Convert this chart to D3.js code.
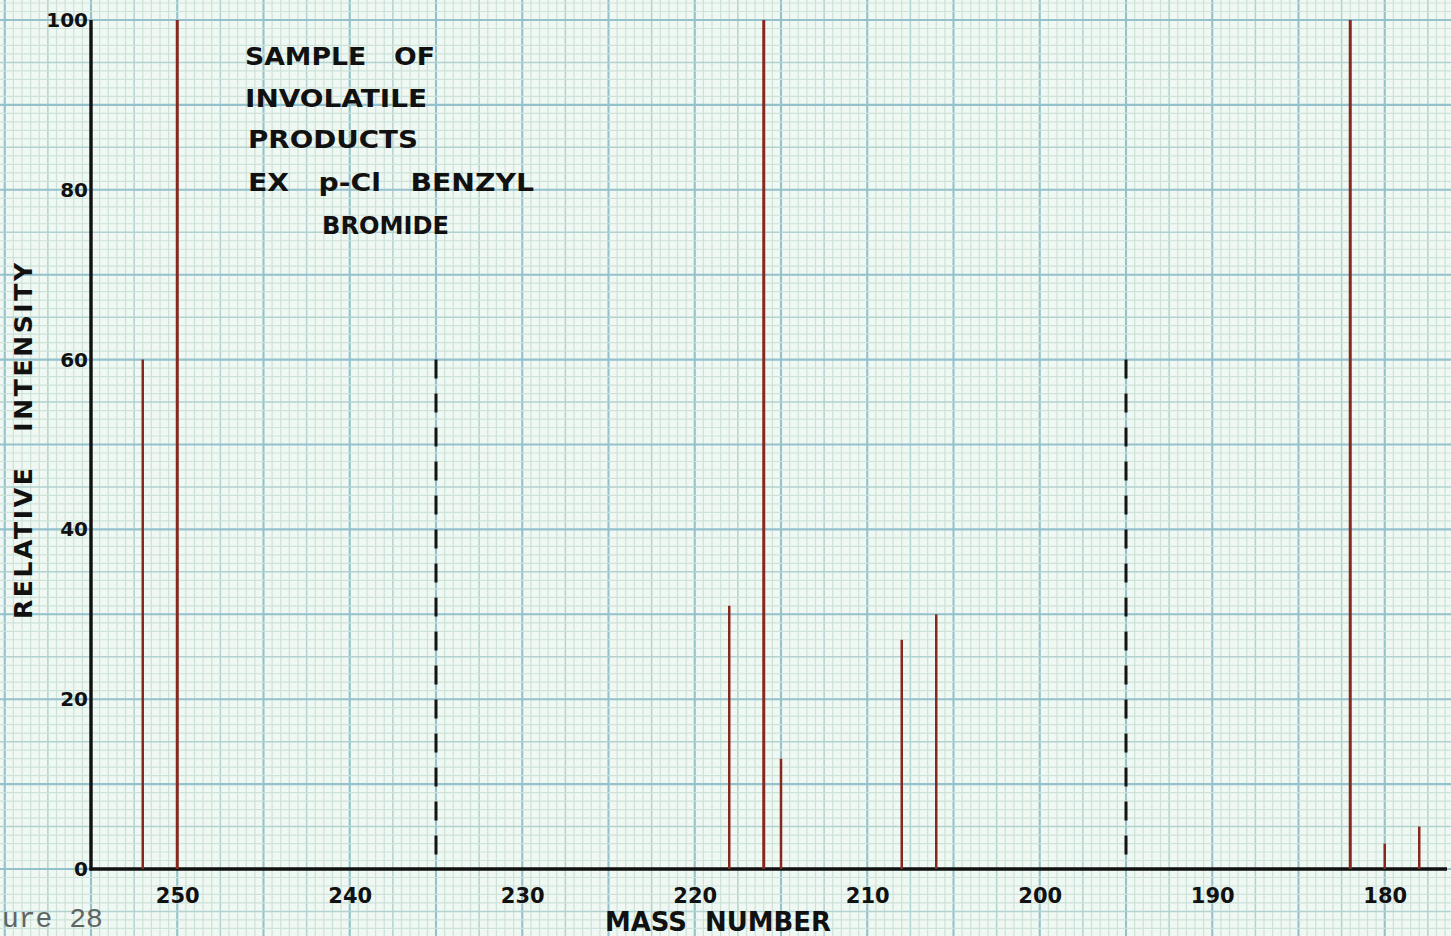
<!DOCTYPE html>
<html>
<head>
<meta charset="utf-8">
<script src="https://cdn.jsdelivr.net/npm/d3@7"></script>
<style>
  html, body { margin: 0; padding: 0; background: #edf6f0; }
  svg { display: block; }
  .hand { font-family: "DejaVu Sans", sans-serif; font-weight: bold; fill: #111; }
  .pre { white-space: pre; }
</style>
</head>
<body>
<svg id="chart" width="1451" height="936"></svg>
<script>
// Mass spectrum: involatile products ex p-Cl benzyl bromide
const masses      = [252, 250, 218, 216, 215, 208, 206, 182, 180, 178];
const intensities = [60, 100, 31, 100, 13, 27, 30, 100, 3, 5];

// dashed marker lines (metastable positions)
const markerMasses = [235, 195];
const markerTop = 60;
const markerBottom = 1.5;

const xTickValues = [250, 240, 230, 220, 210, 200, 190, 180];
const yTickValues = [0, 20, 40, 60, 80, 100];

const noteLines = ["SAMPLE   OF", "INVOLATILE", "PRODUCTS", "EX   p-Cl   BENZYL", "BROMIDE"];

const W = 1451, H = 936;
const svg = d3.select("#chart");

const x = d3.scaleLinear().domain([255, 180]).range([91, 1384.75]);
const y = d3.scaleLinear().domain([0, 100]).range([869, 20]);

// ---- graph paper ----
const paper = svg.append("g");
paper.append("rect").attr("width", W).attr("height", H).attr("fill", "#eff8f2");

const massLo = x.invert(W), massHi = x.invert(0);
const vLines = [];
for (let k = Math.ceil(massLo * 2); k <= Math.floor(massHi * 2); k++) vLines.push(k / 2);
const yLo = y.invert(H), yHi = y.invert(0);
const hLines = d3.range(Math.ceil(yLo), Math.floor(yHi) + 1);

function weight(v, major, mid) {
  if (Math.abs(v % major) < 1e-6) return 2;
  if (Math.abs(v % mid) < 1e-6) return 1;
  return 0;
}
const strokeCol = ["#cde2d8", "#b2d2d0", "#94c1cc"];
const strokeW = [1.2, 1.5, 2.1];

paper.selectAll("line.v").data(vLines).join("line")
  .attr("x1", d => x(d)).attr("x2", d => x(d))
  .attr("y1", 0).attr("y2", H)
  .attr("stroke", d => strokeCol[weight(d, 5, 2.5)])
  .attr("stroke-width", d => strokeW[weight(d, 5, 2.5)]);

paper.selectAll("line.h").data(hLines).join("line")
  .attr("y1", d => y(d)).attr("y2", d => y(d))
  .attr("x1", 0).attr("x2", W)
  .attr("stroke", d => strokeCol[weight(d, 10, 5)])
  .attr("stroke-width", d => strokeW[weight(d, 10, 5)]);

// ---- axes ----
const axisEnd = x.invert(1447);
svg.append("line")
  .attr("x1", x(255)).attr("x2", x(255))
  .attr("y1", y(100)).attr("y2", y(0) + 1.5)
  .attr("stroke", "#111").attr("stroke-width", 3.4);
svg.append("line")
  .attr("x1", x(255) - 1.5).attr("x2", x(axisEnd))
  .attr("y1", y(0)).attr("y2", y(0))
  .attr("stroke", "#111").attr("stroke-width", 3.4);

const xAxis = svg.append("g")
  .attr("transform", `translate(0,${y(0)})`)
  .call(d3.axisBottom(x).tickValues(xTickValues).tickSize(0).tickPadding(19));
xAxis.select(".domain").remove();
xAxis.selectAll("text")
  .attr("class", "hand")
  .style("font-size", "21px")
  .attr("fill", "#111");

const yAxis = svg.append("g")
  .attr("transform", `translate(${x(255)},0)`)
  .call(d3.axisLeft(y).tickValues(yTickValues).tickSize(0).tickPadding(3));
yAxis.select(".domain").remove();
yAxis.selectAll("text")
  .attr("class", "hand")
  .style("font-size", "20px")
  .attr("fill", "#111");

// ---- spectrum lines ----
const peaks = masses.map((m, i) => ({ m, v: intensities[i] }));
svg.append("g").selectAll("line").data(peaks).join("line")
  .attr("x1", d => x(d.m)).attr("x2", d => x(d.m))
  .attr("y1", y(0)).attr("y2", d => y(d.v))
  .attr("stroke", "#87281f")
  .attr("stroke-width", d => d.v >= 100 ? 3 : 2.5);

// ---- dashed markers ----
svg.append("g").selectAll("line").data(markerMasses).join("line")
  .attr("x1", d => x(d)).attr("x2", d => x(d))
  .attr("y1", y(markerTop)).attr("y2", y(markerBottom))
  .attr("stroke", "#141414").attr("stroke-width", 3)
  .attr("stroke-dasharray", "19 15");

// ---- annotation ----
const note = svg.append("g");
const noteX = [245, 245, 248, 248, 322];
const noteY = [65, 107, 148, 191, 234];
const noteLen = [190, 182, 170, 286, 127];
note.selectAll("text").data(noteLines).join("text")
  .attr("class", "hand pre")
  .attr("x", (d, i) => noteX[i])
  .attr("y", (d, i) => noteY[i])
  .attr("textLength", (d, i) => noteLen[i])
  .attr("lengthAdjust", "spacingAndGlyphs")
  .style("font-size", "25px")
  .text(d => d);

// ---- axis titles ----
svg.append("text")
  .attr("class", "hand pre")
  .attr("x", 605).attr("y", 931)
  .attr("textLength", 226)
  .attr("lengthAdjust", "spacingAndGlyphs")
  .style("font-size", "27px")
  .text("MASS  NUMBER");

svg.append("text")
  .attr("class", "hand pre")
  .attr("transform", "translate(32,619) rotate(-90)")
  .attr("textLength", 356)
  .attr("lengthAdjust", "spacing")
  .style("font-size", "25px")
  .text("RELATIVE   INTENSITY");

// ---- figure caption fragment ----
svg.append("text")
  .attr("x", 2).attr("y", 927)
  .attr("fill", "#5e6562")
  .style("font-family", "\"Liberation Mono\", monospace")
  .style("font-size", "28px")
  .text("ure 28");
</script>
</body>
</html>
